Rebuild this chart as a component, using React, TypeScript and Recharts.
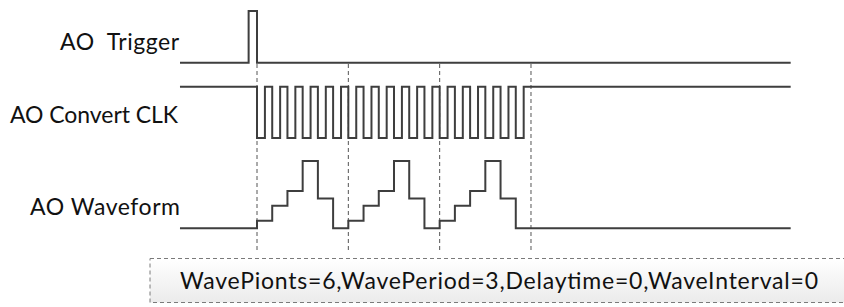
import React from "react";
import { LineChart, Line, XAxis, YAxis, ReferenceLine } from "recharts";

// ---- data ----
const signalNames = ["AO  Trigger", "AO Convert CLK", "AO Waveform"];
const waveLevels = [1, 3, 5, 9, 4, 0]; // one level per wave point
const wavePoints = 6;
const wavePeriod = 3;
const delayTime = 0;
const waveInterval = 0;
const triggerTimes = [-5.06, -0.55, 0, 35.06]; // trigger edges (clock units)
const triggerLevels = [0, 1, 0, 0];
const clockIdleLevel = 1;
const clockDuty = 0.52; // fraction of a clock cycle spent low
const traceStart = -5.06;
const traceEnd = 35.06;
const infoText = `WavePionts=${wavePoints},WavePeriod=${wavePeriod},Delaytime=${delayTime},WaveInterval=${waveInterval}`;

// ---- build series from the data ----
const totalClocks = wavePoints * wavePeriod;
const triggerData = triggerTimes.map((t, i) => ({ t, v: triggerLevels[i] }));

const clockData: { t: number; v: number }[] = [{ t: traceStart, v: clockIdleLevel }];
for (let k = 0; k < totalClocks; k++) {
  clockData.push({ t: k, v: 0 });
  clockData.push({ t: k + clockDuty, v: 1 });
}
clockData.push({ t: traceEnd, v: clockIdleLevel });

const waveData: { t: number; v: number }[] = [{ t: traceStart, v: 0 }];
for (let p = 0; p < wavePeriod; p++) {
  waveLevels.forEach((lv, i) => waveData.push({ t: p * wavePoints + i, v: lv }));
}
waveData.push({ t: totalClocks, v: 0 });
waveData.push({ t: traceEnd, v: 0 });

const guideTimes = Array.from({ length: wavePeriod + 1 }, (_, i) => i * wavePoints);

// ---- layout ----
const W = 844;
const H = 307;
const X0 = 257; // pixel of t=0
const PX = 15.222; // pixels per clock
const xDomain = [-X0 / PX, (W - X0) / PX];

function yDomain(baseY: number, topY: number, topLevel: number) {
  const u = (baseY - topY) / topLevel;
  return [-(H - baseY) / u, baseY / u];
}

const ink = "#3e3e3e";
const font = "Lato, 'Open Sans', sans-serif";

export default function App() {
  return (
    <div style={{ position: "absolute", left: 0, top: 0, width: W, height: H, background: "#fff", overflow: "hidden" }}>
      <LineChart width={W} height={H} margin={{ top: 0, right: 0, bottom: 0, left: 0 }}>
        <defs>
          <linearGradient id="boxFill" x1="0" y1="0" x2="0" y2="1">
            <stop offset="0%" stopColor="#ffffff" />
            <stop offset="100%" stopColor="#ebebeb" />
          </linearGradient>
        </defs>
        <XAxis type="number" dataKey="t" hide domain={xDomain} allowDataOverflow />
        <YAxis yAxisId="trig" hide type="number" domain={yDomain(62.7, 11, 1)} allowDataOverflow />
        <YAxis yAxisId="clk" hide type="number" domain={yDomain(138, 86.7, 1)} allowDataOverflow />
        <YAxis yAxisId="wave" hide type="number" domain={yDomain(228.3, 161, 9)} allowDataOverflow />
        <YAxis yAxisId="frame" hide type="number" domain={[H, 0]} allowDataOverflow />

        <rect x={150} y={258.5} width={1000} height={44} fill="url(#boxFill)" stroke="#7a7a7a" strokeWidth={1} strokeDasharray="4 3" />
        <text x={180} y={289} fontFamily={font} fontSize={23} fill="#111" textLength={638}>
          {infoText}
        </text>

        {guideTimes.map((t) => (
          <ReferenceLine
            key={t}
            yAxisId="frame"
            segment={[{ x: t, y: 64 }, { x: t, y: 250 }]}
            stroke="#555"
            strokeWidth={1}
            strokeDasharray="4 3"
            ifOverflow="visible"
          />
        ))}

        <Line yAxisId="trig" data={triggerData} dataKey="v" type="stepAfter" stroke={ink} strokeWidth={2} strokeDasharray="none" dot={false} activeDot={false} isAnimationActive={false} />
        <Line yAxisId="clk" data={clockData} dataKey="v" type="stepAfter" stroke={ink} strokeWidth={2} strokeDasharray="none" dot={false} activeDot={false} isAnimationActive={false} />
        <Line yAxisId="wave" data={waveData} dataKey="v" type="stepAfter" stroke={ink} strokeWidth={2} strokeDasharray="none" dot={false} activeDot={false} isAnimationActive={false} />

        <text x={179} y={50} textAnchor="end" fontFamily={font} fontSize={23} fill="#111" style={{ whiteSpace: "pre" }} textLength={119}>
          {signalNames[0]}
        </text>
        <text x={178} y={123} textAnchor="end" fontFamily={font} fontSize={23} fill="#111" textLength={168}>
          {signalNames[1]}
        </text>
        <text x={180} y={215} textAnchor="end" fontFamily={font} fontSize={23} fill="#111" textLength={150}>
          {signalNames[2]}
        </text>
      </LineChart>
    </div>
  );
}
